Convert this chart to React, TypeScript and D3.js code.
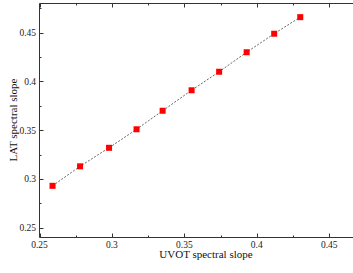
import React from "react";
import * as d3 from "d3";

const uvotSlope = [0.259, 0.278, 0.298, 0.317, 0.335, 0.355, 0.374, 0.393, 0.412, 0.430];
const latSlope = [0.293, 0.313, 0.332, 0.351, 0.370, 0.391, 0.410, 0.430, 0.449, 0.466];
const xTicks = [0.25, 0.3, 0.35, 0.4, 0.45];
const xMinor = [0.275, 0.325, 0.375, 0.425, 0.475];
const yTicks = [0.25, 0.3, 0.35, 0.4, 0.45];
const yMinor = [0.275, 0.325, 0.375, 0.425, 0.475];

const W = 353;
const H = 273;
const FONT = "'Liberation Serif', 'Times New Roman', serif";
const AX = "#333";

export default function App() {
  const x = d3.scaleLinear().domain([0.25, 0.47]).range([39.5, 358.2]);
  const y = d3.scaleLinear().domain([0.24, 0.48]).range([237.5, 3.5]);
  const left = x(0.25);
  const right = x(0.47);
  const bottom = y(0.24);
  const top = y(0.48);
  const pts = uvotSlope.map((u, i) => [u, latSlope[i]] as [number, number]);
  const line = d3.line<[number, number]>().x((d) => x(d[0])).y((d) => y(d[1]));
  const fmt = (v: number) => String(+v.toFixed(2));

  return (
    <svg width={W} height={H} style={{ position: "absolute", left: 0, top: 0, background: "#fff" }}>
      <path d={line(pts) || ""} fill="none" stroke="#555" strokeWidth={0.9} strokeDasharray="2,1.6" />
      {pts.map((p, i) => (
        <rect key={i} x={x(p[0]) - 3} y={y(p[1]) - 3} width={6} height={6} fill="#ff0000" />
      ))}
      {/* frame */}
      <line x1={left} x2={right} y1={bottom} y2={bottom} stroke={AX} strokeWidth={1} />
      <line x1={left} x2={right} y1={top} y2={top} stroke={AX} strokeWidth={1} />
      <line x1={left} x2={left} y1={top} y2={bottom} stroke={AX} strokeWidth={1} />
      {/* x ticks */}
      {xTicks.map((t) => (
        <g key={"xt" + t}>
          <line x1={Math.round(x(t)) + 0.5} x2={Math.round(x(t)) + 0.5} y1={bottom} y2={bottom - 4} stroke={AX} />
          <line x1={Math.round(x(t)) + 0.5} x2={Math.round(x(t)) + 0.5} y1={top} y2={top + 4} stroke={AX} />
          <text x={x(t)} y={247.5} textAnchor="middle" fontFamily={FONT} fontSize={9.5} fill="#222">
            {fmt(t)}
          </text>
        </g>
      ))}
      {xMinor.map((t) => (
        <g key={"xm" + t}>
          <line x1={Math.round(x(t)) + 0.5} x2={Math.round(x(t)) + 0.5} y1={bottom} y2={bottom - 2} stroke={AX} />
          <line x1={Math.round(x(t)) + 0.5} x2={Math.round(x(t)) + 0.5} y1={top} y2={top + 2} stroke={AX} />
        </g>
      ))}
      {/* y ticks */}
      {yTicks.map((t) => (
        <g key={"yt" + t}>
          <line x1={left} x2={left + 4} y1={Math.round(y(t)) + 0.5} y2={Math.round(y(t)) + 0.5} stroke={AX} />
          <text x={36} y={y(t) + 3.3} textAnchor="end" fontFamily={FONT} fontSize={9.5} fill="#222">
            {fmt(t)}
          </text>
        </g>
      ))}
      {yMinor.map((t) => (
        <line key={"ym" + t} x1={left} x2={left + 2} y1={Math.round(y(t)) + 0.5} y2={Math.round(y(t)) + 0.5} stroke={AX} />
      ))}
      <text x={206} y={258} textAnchor="middle" fontFamily={FONT} fontSize={11} fill="#111">
        UVOT spectral slope
      </text>
      <text
        transform="translate(17,120) rotate(-90)"
        textAnchor="middle"
        fontFamily={FONT}
        fontSize={11}
        fill="#111"
      >
        LAT spectral slope
      </text>
    </svg>
  );
}
